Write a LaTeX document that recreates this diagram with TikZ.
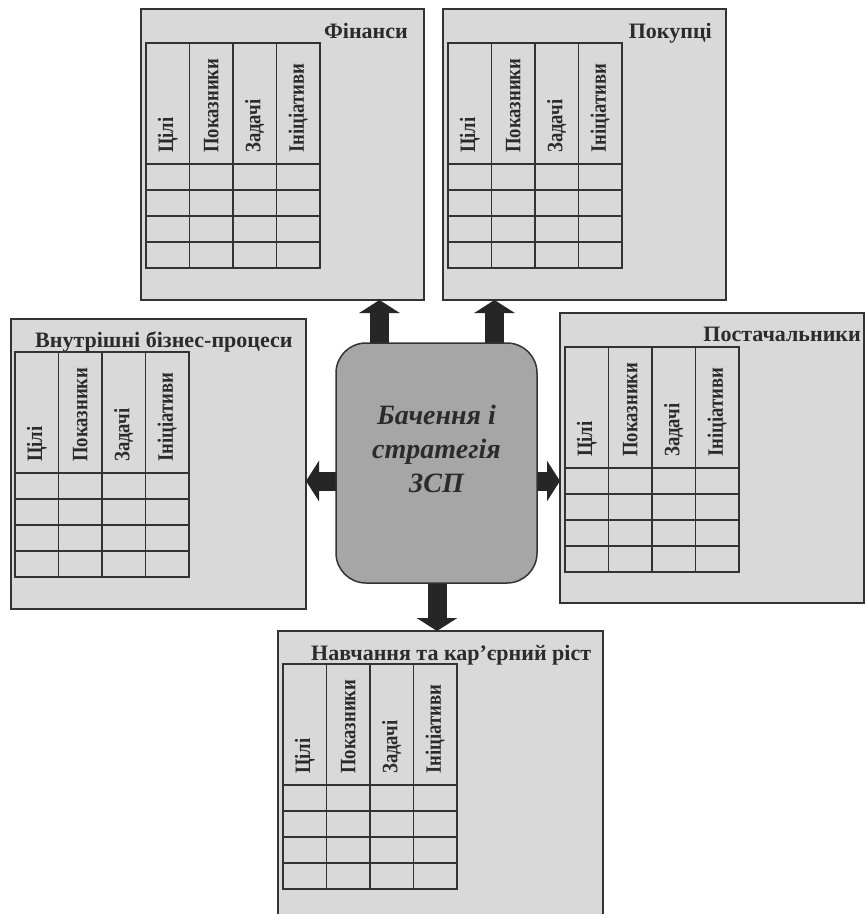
\documentclass[tikz,border=0pt]{standalone}
\usepackage{fontspec}
\setmainfont{Liberation Serif}
\newfontfamily\hdrfont[FakeStretch=0.85]{Liberation Serif}
\usetikzlibrary{arrows.meta}
\definecolor{panelfill}{HTML}{D9D9D9}
\definecolor{linecol}{HTML}{333333}
\definecolor{corefill}{HTML}{A6A6A6}
\definecolor{arrowcol}{HTML}{262626}
\definecolor{textcol}{HTML}{2B2B2B}
\begin{document}
\begin{tikzpicture}[x=1pt,y=-1pt,
 panel/.style={draw=linecol, line width=2pt, fill=panelfill, inner sep=0pt, outer sep=0pt},
 grid/.style={draw=linecol, line width=1.4pt},
 hdr/.style={rotate=90, anchor=west, inner sep=0pt, font=\hdrfont\fontsize{22}{22}\selectfont\bfseries, text=textcol},
 ttl/.style={inner sep=0pt, font=\fontsize{22}{22}\selectfont\bfseries, text=textcol},
 core/.style={draw=linecol, line width=1.5pt, fill=corefill, rounded corners=30pt, inner sep=0pt, outer sep=0pt},
 coretext/.style={align=center, inner sep=0pt, text=textcol, font=\fontsize{28}{34}\selectfont\bfseries\itshape},
 bigarrow/.style={draw=arrowcol, line width=19pt, -{Triangle[width=40pt,length=13pt]}},
 bsc/.pic={
  \foreach \lbl [count=\i] in {Цілі,Показники,Задачі,Ініціативи}
   \node[hdr] (-h\i) at ({21.75+43.5*(\i-1)},110) {\lbl};
  \foreach \gx in {43.5,87,130.5} \draw[grid] (\gx,0) -- (\gx,225);
  \foreach \gy in {121,147,173,199} \draw[grid] (0,\gy) -- (174,\gy);
  \draw[grid] (0,0) rectangle (174,225);
 }
]
\clip (0,0) rectangle (865,914);
\fill[white] (0,0) rectangle (865,914);

% panels
\node[panel, minimum width=283pt, minimum height=291pt] (fin) at (282.5,154.5) {};
\node[panel, minimum width=283pt, minimum height=291pt] (pok) at (584.5,154.5) {};
\node[panel, minimum width=295pt, minimum height=290pt] (intp) at (158.5,464) {};
\node[panel, minimum width=304pt, minimum height=290pt] (post) at (712,458) {};
\node[panel, minimum width=325pt, minimum height=290pt] (learn) at (440.5,776) {};

% titles
\node[ttl, anchor=base east] (tfin) at (408,38) {Фінанси};
\node[ttl, anchor=base east] (tpok) at (712,38) {Покупці};
\node[ttl, anchor=base west] (tint) at (35,347) {Внутрішні бізнес-процеси};
\node[ttl, anchor=base east] (tpost) at (861,341) {Постачальники};
\node[ttl, anchor=base west] (tlearn) at (311,660) {Навчання та кар’єрний ріст};

% tables
\pic (gfin) at (146,43) {bsc};
\pic (gpok) at (448,43) {bsc};
\pic (gint) at (15,352) {bsc};
\pic (gpost) at (565,347) {bsc};
\pic (glearn) at (283,664) {bsc};

% centre box (geometry only, for anchors)
\path (436.5,463) node[minimum width=201pt, minimum height=240pt, inner sep=0pt, outer sep=0pt] (ctr) {};

% arrows
\coordinate (a1) at ([xshift=-57pt]ctr.north);
\coordinate (a2) at ([xshift=58pt]ctr.north);
\coordinate (a3) at ([yshift=-18pt]ctr.west);
\coordinate (a4) at ([yshift=-18pt]ctr.east);
\coordinate (a5) at ([xshift=0.5pt]ctr.south);
\draw[bigarrow] (a1) -- (a1 |- fin.south);
\draw[bigarrow] (a2) -- (a2 |- pok.south);
\draw[bigarrow] (a3) -- (a3 -| intp.east);
\draw[bigarrow] (a4) -- (a4 -| post.west);
\draw[bigarrow] (a5) -- (a5 |- learn.north);

% centre box
\node[core, minimum width=201pt, minimum height=240pt] (core) at (436.5,463) {};
\node[coretext] (coretxt) at (436.5,449) {Бачення і\\стратегія\\ЗСП};
\end{tikzpicture}
\end{document}
